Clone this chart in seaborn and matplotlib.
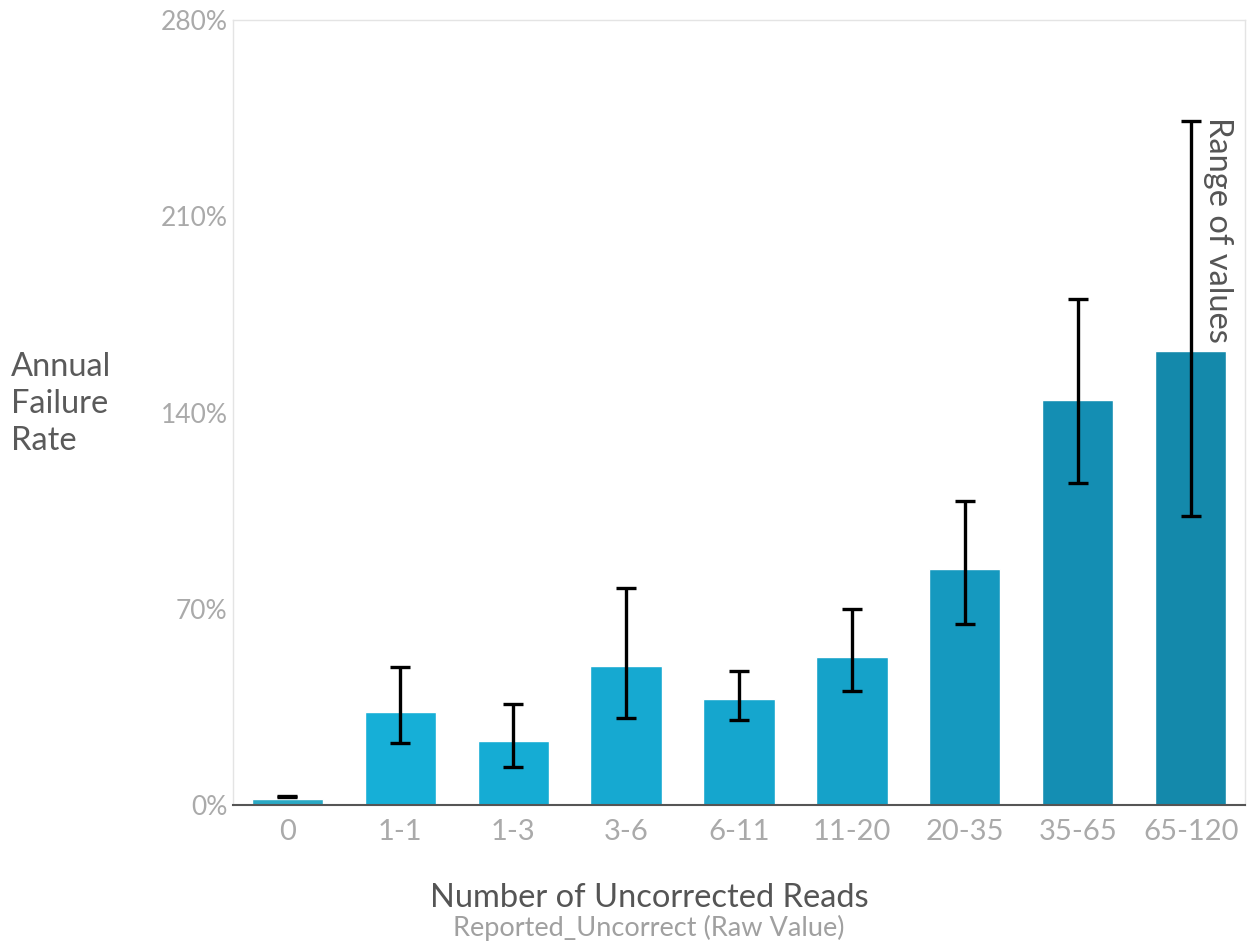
import matplotlib
matplotlib.use("Agg")
import matplotlib.pyplot as plt
import seaborn as sns
import pandas as pd

# Annual failure rate (%) by bucket of uncorrected reads
categories = ["0", "1-1", "1-3", "3-6", "6-11", "11-20", "20-35", "35-65", "65-120"]
afr = [2.0, 33.3, 22.9, 49.6, 37.8, 52.8, 84.3, 144.5, 162.0]
afr_low = [2.7, 22.1, 13.6, 31.1, 30.4, 40.7, 64.6, 115.0, 103.1]
afr_high = [3.2, 49.2, 36.0, 77.5, 47.8, 70.0, 108.3, 180.4, 244.0]
bar_colors = ["#2aa9c4", "#16afd7", "#15acd4", "#16a9d1", "#15a6ce", "#15a2c9",
              "#1599bf", "#148eb3", "#1489ab"]
yticks = [0, 70, 140, 210, 280]

sns.set_theme(style="white")
plt.rcParams["font.family"] = ["Lato", "DejaVu Sans"]

df = pd.DataFrame({"bucket": categories, "afr": afr})

fig = plt.figure(figsize=(12.48, 9.49), dpi=100)
ax = fig.add_axes([0.1867, 0.1517, 0.8109, 0.8272])

sns.barplot(data=df, x="bucket", y="afr", hue="bucket", palette=bar_colors,
            order=categories, width=0.63, legend=False, saturation=1, ax=ax)

# range of values drawn as a whisker spanning low..high
mid = [(lo + hi) / 2 for lo, hi in zip(afr_low, afr_high)]
half = [(hi - lo) / 2 for lo, hi in zip(afr_low, afr_high)]
ax.errorbar(range(len(categories)), mid, yerr=half, fmt="none", ecolor="black",
            elinewidth=2.4, capsize=7, capthick=2.4, zorder=5)

ax.set_xlim(-0.48, len(categories) - 0.52)
ax.set_ylim(0, 280)
ax.set_yticks(yticks)
ax.set_yticklabels([f"{t}%" for t in yticks])
ax.tick_params(axis="y", colors="#aaaaaa", labelsize=19, length=0, pad=4)
ax.tick_params(axis="x", colors="#aaaaaa", labelsize=21, length=0, pad=10)

for side in ["left", "top", "right"]:
    ax.spines[side].set_color("#e4e4e4")
    ax.spines[side].set_linewidth(1.0)
ax.spines["bottom"].set_color("#555555")
ax.spines["bottom"].set_linewidth(1.5)

ax.set_xlabel("")
ax.set_ylabel("")

fig.text(0.009, 0.574, "Annual\nFailure\nRate", ha="left", va="center",
         fontsize=23.5, color="#5a5a5a", linespacing=1.3)
fig.text(0.52, 0.0535, "Number of Uncorrected Reads", ha="center", va="center",
         fontsize=23.5, color="#555555")
fig.text(0.52, 0.022, "Reported_Uncorrect (Raw Value)", ha="center", va="center",
         fontsize=19.5, color="#a0a0a0")

ax.text(len(categories) - 1 + 0.24, 245.5, "Range of values", rotation=270,
        ha="center", va="top", fontsize=23.5, color="#555555")

fig.savefig("out.png", dpi=100, facecolor="white")
